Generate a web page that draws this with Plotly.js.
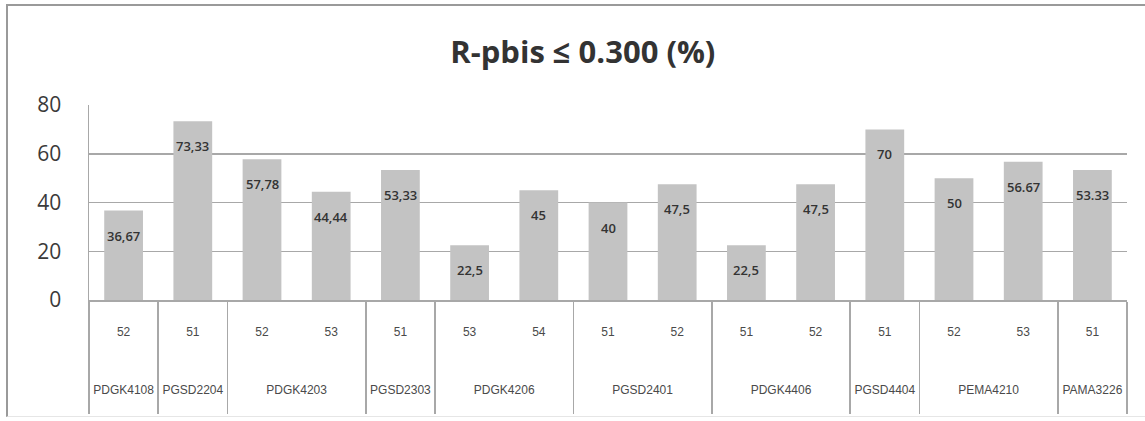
<!DOCTYPE html>
<html>
<head>
<meta charset="utf-8">
<script src="https://cdn.plot.ly/plotly-3.0.1.min.js"></script>
<style>
  html, body { margin: 0; padding: 0; background: #fff; }
  #wrap { position: relative; width: 1145px; height: 421px; }
  #chart { width: 1145px; height: 421px; }
  #frame { position: absolute; left: 6px; top: 4px; width: 1145px; height: 413px;
           border-left: 2px solid #9a9a9a; border-top: 2px solid #9a9a9a; border-bottom: 1px solid #e6e6e6;
           pointer-events: none; box-sizing: border-box; }
</style>
</head>
<body>
<div id="wrap">
  <div id="chart"></div>
  <div id="frame"></div>
</div>
<script>
const groups = ["PDGK4108", "PGSD2204", "PDGK4203", "PDGK4203", "PGSD2303",
                "PDGK4206", "PDGK4206", "PGSD2401", "PGSD2401", "PDGK4406",
                "PDGK4406", "PGSD4404", "PEMA4210", "PEMA4210", "PAMA3226"];
const subs = ["52", "51", "52", "53", "51", "53", "54", "51", "52", "51", "52", "51", "52", "53", "51"];
const values = [36.67, 73.33, 57.78, 44.44, 53.33, 22.5, 45, 40, 47.5, 22.5, 47.5, 70, 50, 56.67, 53.33];
const valueLabels = ["36,67", "73,33", "57,78", "44,44", "53,33", "22,5", "45", "40", "47,5",
                     "22,5", "47,5", "70", "50", "56.67", "53.33"];
const yTicks = [0, 20, 40, 60, 80];

// pad the group labels with empty lines so they sit lower, as in the reference
const groupText = groups.map(g => "\u00a0<br>\u00a0<br>\u00a0<br>\u00a0<br>" + g + "<br>\u00a0");
// make each sub label a distinct key (invisible empty tags) so Plotly keeps the data order
const subText = subs.map((s, i) => s + "<span></span>".repeat(i));

const trace = {
  type: "bar",
  x: [groupText, subText],
  y: values,
  marker: { color: "#c3c3c3", line: { width: 0 } },
  hoverinfo: "y"
};

const annotations = values.map((v, i) => ({
  x: i, y: v, xref: "x", yref: "y",
  text: valueLabels[i], showarrow: false,
  yanchor: "middle", yshift: -25,
  font: { family: "Open Sans, sans-serif", size: 13, color: "#333", weight: 600 }
}));

const layout = {
  width: 1145, height: 421,
  margin: { l: 89, r: 18, t: 105, b: 121 },
  paper_bgcolor: "#fff", plot_bgcolor: "#fff",
  title: {
    text: "<b>R-pbis ≤ 0.300 (%)</b>",
    font: { family: "Open Sans, sans-serif", size: 31, color: "#333" },
    x: 0.509, xanchor: "center", y: 0.876, yanchor: "middle"
  },
  bargap: 0.44,
  showlegend: false,
  xaxis: {
    type: "multicategory",
    showline: true, linecolor: "#a8a8a8", linewidth: 1.5,
    showgrid: false, zeroline: false,
    ticks: "", ticklabelstandoff: 20,
    tickfont: { family: "Liberation Sans, Arial, sans-serif", size: 12, color: "#4a4a4a" },
    showdividers: true, dividercolor: "#a8a8a8", dividerwidth: 1.5
  },
  yaxis: {
    range: [0, 80], tickvals: yTicks, ticktext: yTicks.map(String),
    showline: true, linecolor: "#a8a8a8", linewidth: 1.5,
    showgrid: true, gridcolor: "#a8a8a8", gridwidth: 1.5,
    zeroline: false,
    ticks: "outside", ticklen: 22, tickcolor: "rgba(0,0,0,0)",
    tickfont: { family: "Open Sans, sans-serif", size: 21, color: "#3a3a3a" }
  },
  annotations: annotations
};

Plotly.newPlot("chart", [trace], layout, { displayModeBar: false, staticPlot: true });
</script>
</body>
</html>
